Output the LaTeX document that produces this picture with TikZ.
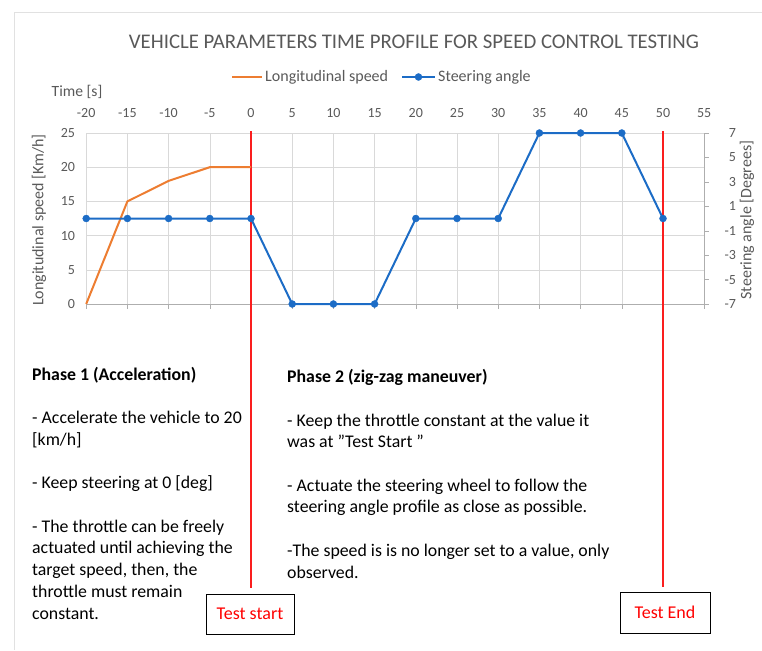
\documentclass[tikz,border=0pt]{standalone}
\usepackage{fontspec}
\setmainfont{Carlito}
\definecolor{orangeexcel}{RGB}{237,125,49}
\definecolor{bleuexcel}{RGB}{28,108,198}
\definecolor{grille}{RGB}{217,217,217}
\definecolor{cadre}{RGB}{225,225,225}
\definecolor{texte}{RGB}{89,89,89}
\definecolor{rougerepere}{RGB}{250,30,30}
\begin{document}
\begin{tikzpicture}[x=1pt, y=-1pt]
  % Styles
  \tikzset{
    pt/.style={fill=bleuexcel, draw=bleuexcel, circle, minimum size=7pt, inner sep=0pt},
    courbe/.style={line width=2pt, line join=round},
    etiq/.style={text=texte, font=\fontsize{14}{16}\selectfont, inner sep=1pt},
    titreaxe/.style={text=texte, font=\fontsize{16}{18}\selectfont, inner sep=1pt},
    boite/.style={draw=black, line width=0.9pt, text=red, font=\fontsize{18}{20}\selectfont},
    repere/.style={draw=rougerepere, line width=1.2pt},
    consigne/.style={align=left, anchor=base west, inner sep=0pt, font=\fontsize{17.8}{21.7}\selectfont},
  }
  \useasboundingbox (0,0) rectangle (762,650);

  % Cadre extérieur
  \draw[cadre] (14,650) -- (14,12) -- (762,12);

  % Titre et légende
  \node[text=texte, font=\fontsize{20.8}{24}\selectfont] (titre) at (414,42)
    {VEHICLE PARAMETERS TIME PROFILE FOR SPEED CONTROL TESTING};
  \draw[orangeexcel, line width=2pt] (232,77) -- (262,77);
  \node[titreaxe, anchor=west] (legvitesse) at (264,77) {Longitudinal speed};
  \draw[bleuexcel, line width=2pt] (402,77) -- (435,77);
  \node[pt] (legpoint) at (418.5,77) {};
  \node[titreaxe, anchor=west] (legangle) at (437,77) {Steering angle};
  \node[titreaxe, font=\fontsize{15.6}{18}\selectfont] (temps) at (77,92) {Time [s]};

  % Titres des axes
  \node[titreaxe, rotate=90] (axevitesse) at (39,220) {Longitudinal speed [Km/h]};
  \node[titreaxe, rotate=90] (axeangle) at (747,220) {Steering angle [Degrees]};

  % Boîtes de début et de fin
  \node[boite, minimum width=88pt, minimum height=40pt] (teststart) at (250,614) {Test start};
  \node[boite, minimum width=90pt, minimum height=41pt] (testend) at (665,612.5) {Test End};

  \begin{scope}[shift={(251pt,-304pt)}, x=8.24pt, y=6.84pt]
    % Grille de fond
    \foreach \t in {-20,-15,...,50}
      \draw[grille] (\t,0) -- (\t,25);
    \foreach \v in {5,10,...,25}
      \draw[grille] (-20,\v) -- (55,\v);

    % Axes
    \draw[grille!80!black] (-20,0) -- (55,0);
    \draw[grille!80!black] (55,0) -- (55,25);

    % Graduations
    \foreach \t in {-20,-15,...,55} {
      \draw[grille!80!black] (\t,0) -- ([yshift=-5pt]\t,0);
      \node[etiq] at ([yshift=20pt]\t,25) {\t};
    }
    \foreach \v in {0,5,...,25}
      \node[etiq, anchor=east] at ([xshift=-10pt]-20,\v) {\v};
    \foreach \a in {-7,-5,...,7} {
      \draw[grille!80!black] (55,{12.5+\a*25/14}) -- ([xshift=5pt]55,{12.5+\a*25/14});
      \node[etiq, anchor=east] at ([xshift=33pt]55,{12.5+\a*25/14}) {\a};
    }

    % Repères verticaux
    \coordinate (debut) at ([yshift=2pt]0,25);
    \coordinate (fin) at ([yshift=2pt]50,25);
    \draw[repere] (debut) -- ([yshift=6pt]teststart.north -| debut);
    \draw[repere] (fin) -- ([yshift=5pt]testend.north -| fin);

    % Vitesse longitudinale
    \draw[courbe, orangeexcel] (-20,0) -- (-15,15) -- (-10,18) -- (-5,20) -- (0,20);

    % Angle de braquage
    \draw[courbe, bleuexcel] plot coordinates {
      (-20,12.5) (-15,12.5) (-10,12.5) (-5,12.5) (0,12.5)
      (5,0) (10,0) (15,0)
      (20,12.5) (25,12.5) (30,12.5)
      (35,25) (40,25) (45,25)
      (50,12.5)
    };
    \foreach \t/\a in {
      -20/0, -15/0, -10/0, -5/0, 0/0,
      5/-7, 10/-7, 15/-7,
      20/0, 25/0, 30/0,
      35/7, 40/7, 45/7,
      50/0
    }{
      \node[pt] at (\t,{12.5+\a*25/14}) {};
    }
  \end{scope}

  % Consignes
  \node[consigne] (phase1) at (32,619) {\textbf{Phase 1 (Acceleration)}\\[21.7pt]
    - Accelerate the vehicle to 20\\ {[km/h]}\\[21.7pt]
    - Keep steering at 0 [deg]\\[21.7pt]
    - The throttle can be freely\\ actuated until achieving the\\
    target speed, then, the\\ throttle must remain\\ constant.};
  \node[consigne] (phase2) at (287,578) {\textbf{Phase 2 (zig-zag maneuver)}\\[21.7pt]
    - Keep the throttle constant at the value it\\ was at "Test Start "\\[21.7pt]
    - Actuate the steering wheel to follow the\\ steering angle profile as close as possible.\\[21.7pt]
    -The speed is is no longer set to a value, only\\ observed.};
\end{tikzpicture}
\end{document}
